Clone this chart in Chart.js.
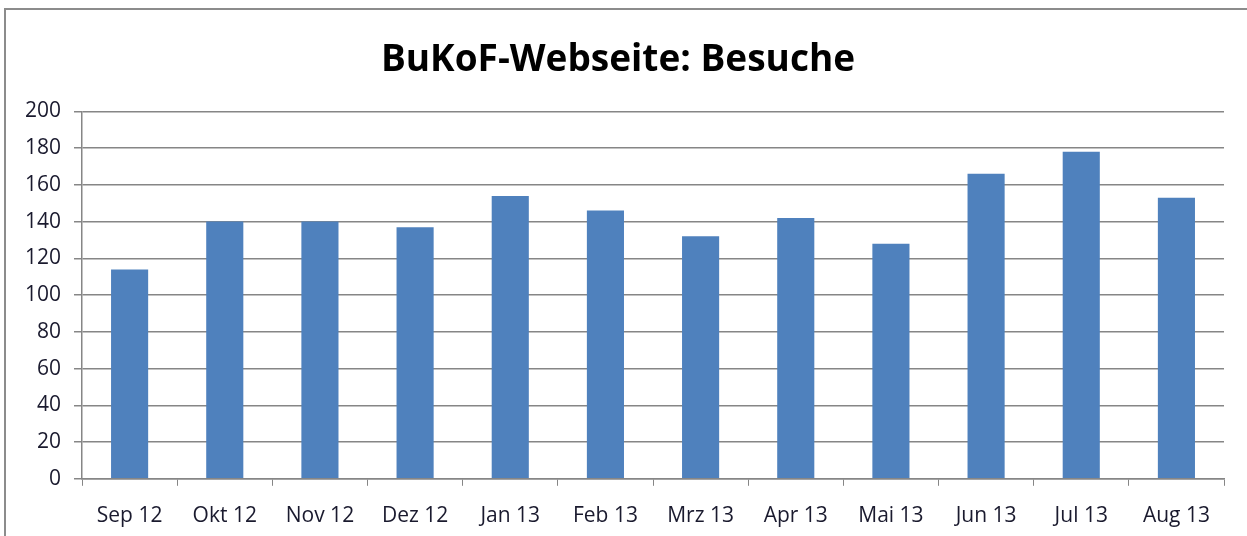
<!DOCTYPE html>
<html>
<head>
<meta charset="utf-8">
<script src="https://cdn.jsdelivr.net/npm/chart.js@4"></script>
<style>
  html, body { margin: 0; padding: 0; background: #fff; overflow: hidden; }
  #frame { position: absolute; left: 4px; top: 8px; width: 1300px; height: 600px; border: 2px solid #8c8c8c; border-right: none; box-sizing: border-box; }
  #wrap { position: absolute; left: 0; top: 0; width: 1247px; height: 547px; }
</style>
</head>
<body>
<div id="frame"></div>
<div id="wrap"><canvas id="myBarChart"></canvas></div>
<script>
// Werte
var months = ['Sep 12', 'Okt 12', 'Nov 12', 'Dez 12', 'Jan 13', 'Feb 13', 'Mrz 13', 'Apr 13', 'Mai 13', 'Jun 13', 'Jul 13', 'Aug 13'];
var visits = [114, 140, 140, 137, 154, 146, 132, 142, 128, 166, 178, 153];
var yMin = 0;
var yMax = 200;
var yStep = 20;

Chart.defaults.font.family = '"Open Sans", "Noto Sans", sans-serif';
Chart.defaults.color = '#1a1a2e';

var ctx = document.getElementById('myBarChart');
new Chart(ctx, {
    type: 'bar',
    data: {
        labels: months,
        datasets: [{
            label: 'Besuche',
            data: visits,
            backgroundColor: '#4f81bd',
            categoryPercentage: 1.0,
            barPercentage: 0.39,
        }],
    },
    options: {
        responsive: true,
        maintainAspectRatio: false,
        animation: false,
        layout: { padding: { left: 12, right: 23, top: 38, bottom: 0 } },
        plugins: {
            legend: { display: false },
            tooltip: { enabled: false },
            title: {
                display: true,
                text: 'BuKoF-Webseite: Besuche',
                color: '#000',
                font: { size: 37, weight: 'bold' },
                padding: { top: 0, bottom: 29 },
            },
        },
        scales: {
            x: {
                offset: true,
                grid: {
                    offset: true,
                    drawOnChartArea: false,
                    tickLength: 7,
                    color: '#868686',
                },
                border: { color: '#868686', width: 1.5 },
                ticks: { font: { size: 21 }, padding: 18, maxRotation: 0 },
            },
            y: {
                min: yMin,
                max: yMax,
                ticks: { stepSize: yStep, font: { size: 21 }, padding: 13 },
                grid: { color: '#868686', lineWidth: 1.5, tickLength: 8 },
                border: { color: '#868686', width: 1.5 },
            },
        },
    },
});
</script>
</body>
</html>
